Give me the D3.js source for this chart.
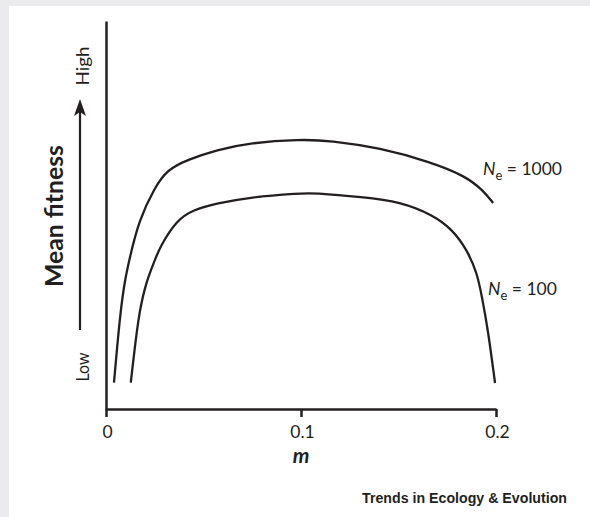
<!DOCTYPE html>
<html>
<head>
<meta charset="utf-8">
<script src="https://cdn.jsdelivr.net/npm/d3@7"></script>
<style>
  body { margin: 0; }
  text { fill: #231f20; }
</style>
</head>
<body>
<svg width="590" height="517"></svg>
<script>
// Data (m, mean fitness on a 0-1 scale)
const x_ticks = [0, 0.1, 0.2];
const tick_labels = ['0', '0.1', '0.2'];
const m_ne1000 = [0.0041, 0.0051, 0.0075, 0.0097, 0.0119, 0.0169, 0.0251, 0.0313, 0.0415, 0.0569, 0.0738, 0.0995, 0.1149, 0.1405, 0.1662, 0.1841, 0.1933, 0.1985];
const fit_ne1000 = [0.068, 0.126, 0.255, 0.332, 0.384, 0.487, 0.572, 0.616, 0.642, 0.668, 0.686, 0.695, 0.692, 0.673, 0.637, 0.601, 0.564, 0.531];
const m_ne100 = [0.0127, 0.0140, 0.0171, 0.0209, 0.0251, 0.0277, 0.0363, 0.0446, 0.0568, 0.0738, 0.0995, 0.1062, 0.1318, 0.1508, 0.1677, 0.1779, 0.1851, 0.1903, 0.1928, 0.1959, 0.1995];
const fit_ne100 = [0.068, 0.126, 0.255, 0.332, 0.384, 0.418, 0.487, 0.513, 0.530, 0.546, 0.556, 0.557, 0.546, 0.534, 0.500, 0.461, 0.410, 0.351, 0.289, 0.204, 0.067];
const series_labels = ['1000', '100'];

const svg = d3.select('svg');
const width = +svg.attr('width');
const height = +svg.attr('height');
const ink = '#231f20';
const font = 'Lato, "Open Sans", sans-serif';

// Background panel
svg.append('rect').attr('width', width).attr('height', height).attr('fill', '#ebebed');
svg.append('rect').attr('x', 9).attr('y', 6).attr('width', width - 9).attr('height', height - 6).attr('fill', 'white');

const x_scale = d3.scaleLinear().domain([0, 0.2]).range([106, 496]);
const y_scale = d3.scaleLinear().domain([0, 1]).range([409, 21]);

// x axis
const x_axis = svg.append('g')
    .attr('transform', `translate(0, ${y_scale(0)})`)
    .call(d3.axisBottom(x_scale).tickValues(x_ticks).tickSize(8).tickSizeOuter(0)
        .tickFormat((d, i) => tick_labels[i]));
x_axis.select('.domain').attr('stroke', ink).attr('stroke-width', 2.5);
x_axis.selectAll('.tick line').attr('stroke', ink).attr('stroke-width', 2.5);
x_axis.selectAll('.tick text')
    .attr('x', 1)
    .attr('y', 29)
    .attr('dy', 0)
    .style('font-family', font)
    .style('font-size', '17.5px')
    .style('fill', ink);

// y axis (line only)
const y_axis = svg.append('g')
    .attr('transform', `translate(${x_scale(0)}, 0)`)
    .call(d3.axisLeft(y_scale).tickValues([]).tickSizeOuter(0));
y_axis.select('.domain').attr('stroke', ink).attr('stroke-width', 2.5);

// Axis titles
svg.append('text')
    .attr('x', x_scale(0.1))
    .attr('y', 463)
    .attr('text-anchor', 'middle')
    .style('font-family', font)
    .style('font-size', '21px')
    .style('font-weight', 'bold')
    .style('font-style', 'italic')
    .text('m');

svg.append('text')
    .attr('transform', 'translate(63, 216) rotate(-90)')
    .attr('text-anchor', 'middle')
    .attr('textLength', 142)
    .attr('lengthAdjust', 'spacingAndGlyphs')
    .style('font-family', font)
    .style('font-size', '24px')
    .style('font-weight', 'bold')
    .text('Mean fitness');

svg.append('text')
    .attr('transform', 'translate(89, 66) rotate(-90)')
    .attr('text-anchor', 'middle')
    .attr('textLength', 39)
    .attr('lengthAdjust', 'spacingAndGlyphs')
    .style('font-family', font)
    .style('font-size', '17px')
    .text('High');

svg.append('text')
    .attr('transform', 'translate(89, 367) rotate(-90)')
    .attr('text-anchor', 'middle')
    .attr('textLength', 29)
    .attr('lengthAdjust', 'spacingAndGlyphs')
    .style('font-family', font)
    .style('font-size', '17px')
    .text('Low');

// Arrow
svg.append('line')
    .attr('x1', 80).attr('x2', 80)
    .attr('y1', 330).attr('y2', 104)
    .attr('stroke', ink)
    .attr('stroke-width', 2.2);
svg.append('path')
    .attr('d', 'M80,99 L86,116 L80,112 L74,116 Z')
    .attr('fill', ink);

// Curves
const line = d3.line()
    .x(d => x_scale(d[0]))
    .y(d => y_scale(d[1]))
    .curve(d3.curveBasis);

const series = [
    { m: m_ne1000, fit: fit_ne1000 },
    { m: m_ne100, fit: fit_ne100 }
];
series.forEach(s => {
    svg.append('path')
        .datum(s.m.map((d, i) => [d, s.fit[i]]))
        .attr('d', line)
        .attr('fill', 'none')
        .attr('stroke', ink)
        .attr('stroke-width', 2.3);
});

// Curve labels
const label_pos = [[483, 175], [488, 295]];
series_labels.forEach((lab, i) => {
    const t = svg.append('text')
        .attr('x', label_pos[i][0])
        .attr('y', label_pos[i][1])
        .style('font-family', font)
        .style('font-size', '17.5px');
    t.append('tspan').style('font-style', 'italic').text('N');
    t.append('tspan').attr('dy', 5).style('font-size', '13px').text('e');
    t.append('tspan').attr('dy', -5).text(' = ' + lab);
});

// Journal credit
svg.append('text')
    .attr('x', 567)
    .attr('y', 503)
    .attr('text-anchor', 'end')
    .attr('textLength', 205)
    .attr('lengthAdjust', 'spacingAndGlyphs')
    .style('font-family', '"Liberation Sans", Arial, sans-serif')
    .style('font-size', '14px')
    .style('font-weight', 'bold')
    .text('Trends in Ecology & Evolution');
</script>
</body>
</html>
